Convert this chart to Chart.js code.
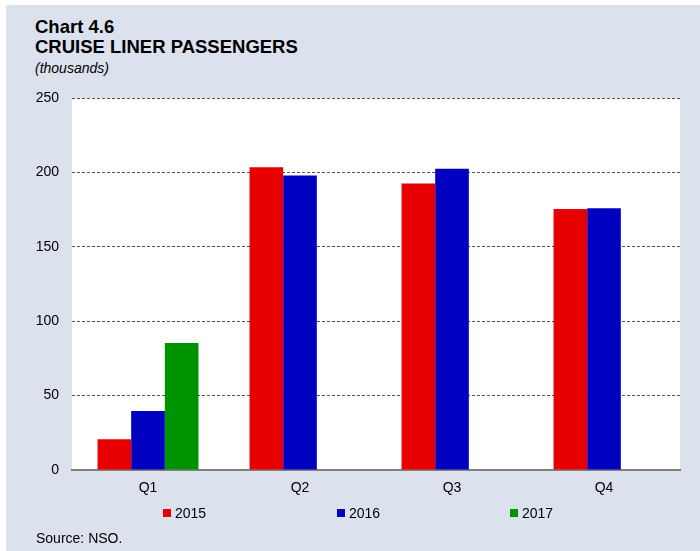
<!DOCTYPE html>
<html>
<head>
<meta charset="utf-8">
<title>Cruise liner passengers</title>
<script src="https://cdn.jsdelivr.net/npm/chart.js@4/dist/chart.umd.min.js"></script>
<style>
  body { margin: 0; background: #fff; font-family: "Liberation Sans", Arial, sans-serif; }
  #wrap { position: relative; width: 700px; height: 551px; overflow: hidden; }
  #panel { position: absolute; left: 6px; top: 5px; right: 0; bottom: 0; background: #dbe2ee; }
  #chart { position: absolute; left: 0; top: 0; }
  .title { position: absolute; left: 35px; font-weight: bold; font-size: 18.5px; color: #000; line-height: 20px; }
  #sub { position: absolute; left: 35px; top: 60px; font-style: italic; font-size: 14px; color: #000; }
  #source { position: absolute; left: 36px; top: 530px; font-size: 14px; color: #000; }
</style>
</head>
<body>
<div id="wrap">
  <div id="panel"></div>
  <div class="title" style="top:17px">Chart 4.6</div>
  <div class="title" style="top:37px">CRUISE LINER PASSENGERS</div>
  <div id="sub">(thousands)</div>
  <canvas id="chart" width="700" height="551"></canvas>
  <div id="source">Source: NSO.</div>
</div>
<script>
const quarters = ["Q1", "Q2", "Q3", "Q4"];
const years = ["2015", "2016", "2017"];
const pax2015 = [20.7, 203.5, 192.6, 175.4];
const pax2016 = [39.7, 198.0, 202.4, 175.9];
const pax2017 = [85.3, null, null, null];
const yTicks = [0, 50, 100, 150, 200, 250];
const colors = ["#e60000", "#0000c0", "#009300"];

// white plot background behind the bars
const plotBg = {
  id: "plotBg",
  beforeDraw(chart) {
    const { ctx, chartArea: a } = chart;
    ctx.save();
    ctx.fillStyle = "#fff";
    ctx.fillRect(a.left, a.top, a.right - a.left, a.bottom - a.top);
    ctx.restore();
  }
};

// legend row under the axis, items spread wide apart
const wideLegend = {
  id: "wideLegend",
  afterDraw(chart) {
    const ctx = chart.ctx;
    const xs = [163, 337, 510];
    const y = 513;
    ctx.save();
    ctx.font = "14px 'Liberation Sans', Arial, sans-serif";
    ctx.textBaseline = "middle";
    chart.data.datasets.forEach((ds, i) => {
      ctx.fillStyle = ds.backgroundColor;
      ctx.fillRect(xs[i], y - 4, 8, 8);
      ctx.fillStyle = "#000";
      ctx.fillText(ds.label, xs[i] + 12, y + 1);
    });
    ctx.restore();
  }
};

new Chart(document.getElementById("chart"), {
  type: "bar",
  data: {
    labels: quarters,
    datasets: [
      { label: years[0], data: pax2015, backgroundColor: colors[0] },
      { label: years[1], data: pax2016, backgroundColor: colors[1] },
      { label: years[2], data: pax2017, backgroundColor: colors[2] }
    ]
  },
  options: {
    responsive: false,
    animation: false,
    layout: { padding: { top: 98, right: 20, left: 0, bottom: 0 } },
    datasets: { bar: { categoryPercentage: 0.664, barPercentage: 1 } },
    plugins: {
      legend: { display: false },
      tooltip: { enabled: false }
    },
    scales: {
      x: {
        grid: { display: false, drawTicks: false },
        border: { display: true, color: "#808080", width: 2 },
        ticks: { color: "#000", padding: 10, font: { size: 14, family: "'Liberation Sans', Arial" } },
        afterFit(scale) { scale.height = 81; }
      },
      y: {
        min: 0,
        max: 250,
        afterBuildTicks(scale) { scale.ticks = yTicks.map(v => ({ value: v })); },
        grid: {
          drawTicks: false,
          color: c => (c.tick && c.tick.value === 0 ? "rgba(0,0,0,0)" : "#555"),
          lineWidth: 1
        },
        border: { display: false, dash: [3, 2] },
        ticks: { color: "#000", padding: 13, font: { size: 14, family: "'Liberation Sans', Arial" } },
        afterFit(scale) { scale.width = 72; }
      }
    }
  },
  plugins: [plotBg, wideLegend]
});
</script>
</body>
</html>
